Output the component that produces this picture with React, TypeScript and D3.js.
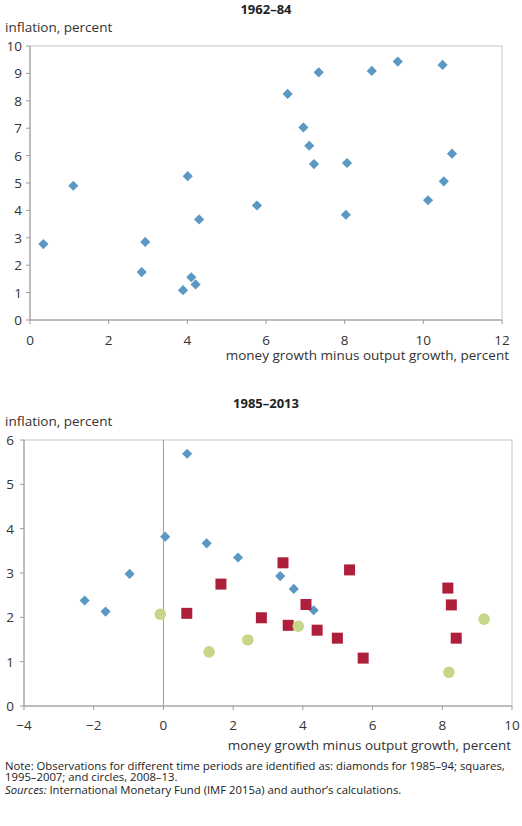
import React from "react";
import * as d3 from "d3";

// Panel 1: 1962–84
const p1X = [6.55, 7.34, 8.69, 9.35, 10.49, 6.95, 7.10, 7.22, 8.06, 10.73, 4.01, 1.10, 10.52, 10.12, 5.77, 8.03, 4.30, 0.34, 2.93, 2.84, 4.10, 4.21, 3.89];
const p1Y = [8.25, 9.04, 9.09, 9.43, 9.31, 7.03, 6.36, 5.69, 5.73, 6.07, 5.25, 4.90, 5.06, 4.37, 4.18, 3.84, 3.67, 2.77, 2.85, 1.75, 1.56, 1.30, 1.09];

// Panel 2: 1985–2013
const diaX = [0.68, 0.05, 1.24, 2.14, -0.97, -2.26, -1.66, 3.35, 3.74, 4.31];
const diaY = [5.69, 3.82, 3.67, 3.35, 2.98, 2.38, 2.13, 2.93, 2.64, 2.16];
const sqX = [3.43, 5.34, 1.65, 8.16, 4.09, 8.26, 0.67, 2.81, 3.58, 4.41, 4.99, 8.40, 5.73];
const sqY = [3.23, 3.07, 2.75, 2.66, 2.29, 2.28, 2.09, 1.99, 1.82, 1.71, 1.53, 1.53, 1.08];
const cirX = [-0.09, 9.20, 3.87, 2.42, 1.31, 8.19];
const cirY = [2.07, 1.96, 1.80, 1.49, 1.22, 0.76];

const p1XTicks = [0, 2, 4, 6, 8, 10, 12];
const p1YTicks = [0, 1, 2, 3, 4, 5, 6, 7, 8, 9, 10];
const p2XTicks = [-4, -2, 0, 2, 4, 6, 8, 10];
const p2YTicks = [0, 1, 2, 3, 4, 5, 6];

const BLUE = "#5b98c3";
const RED = "#ad1f3b";
const GREEN = "#c6d78a";
const FONT = "'Open Sans', 'Noto Sans', sans-serif";
const TXT = "#333";
const AXIS = "#9a9a9a";
const BORDER = "#c4c4c4";

const diamond = d3.symbol().type(d3.symbolDiamond2).size(66)();

export default function App() {
  const x1 = d3.scaleLinear().domain([0, 12]).range([30, 502]);
  const y1 = d3.scaleLinear().domain([0, 10]).range([320, 46]);
  const x2 = d3.scaleLinear().domain([-4, 10]).range([24, 512]);
  const y2 = d3.scaleLinear().domain([0, 6]).range([706, 440]);

  const axisStyle = { fontFamily: FONT, fontSize: 13.5, fill: TXT } as const;
  const titleStyle = { fontFamily: FONT, fontSize: 13, fontWeight: 700, fill: "#222" } as const;
  const noteStyle = { fontFamily: FONT, fontSize: 11.3, fill: "#222" } as const;

  return (
    <svg width={522} height={826} style={{ position: "absolute", left: 0, top: 0, background: "#fff" }}>
      {/* Panel 1 */}
      <text x={266} y={14} textAnchor="middle" style={titleStyle}>1962–84</text>
      <text x={5} y={32} style={axisStyle}>inflation, percent</text>
      <rect x={x1(0)} y={y1(10)} width={x1(12) - x1(0)} height={y1(0) - y1(10)} fill="none" stroke={BORDER} />
      <line x1={x1(0)} x2={x1(12)} y1={y1(0)} y2={y1(0)} stroke={AXIS} />
      <line x1={x1(0)} x2={x1(0)} y1={y1(0)} y2={y1(10)} stroke={AXIS} />
      {p1YTicks.map((t) => (
        <g key={"y1" + t}>
          <line x1={x1(0) - 4} x2={x1(0)} y1={y1(t)} y2={y1(t)} stroke={AXIS} />
          <text x={x1(0) - 8} y={y1(t) + 5} textAnchor="end" style={axisStyle}>{t}</text>
        </g>
      ))}
      {p1XTicks.map((t) => (
        <g key={"x1" + t}>
          <line x1={x1(t)} x2={x1(t)} y1={y1(0)} y2={y1(0) + 4} stroke={AXIS} />
          <text x={x1(t)} y={y1(0) + 25} textAnchor="middle" style={axisStyle}>{t}</text>
        </g>
      ))}
      <text x={509} y={360} textAnchor="end" style={axisStyle}>money growth minus output growth, percent</text>
      {p1X.map((v, i) => (
        <path key={"p1" + i} d={diamond} transform={`translate(${x1(v)},${y1(p1Y[i])})`} fill={BLUE} />
      ))}

      {/* Panel 2 */}
      <text x={266} y={408} textAnchor="middle" style={titleStyle}>1985–2013</text>
      <text x={5} y={426} style={axisStyle}>inflation, percent</text>
      <rect x={x2(-4)} y={y2(6)} width={x2(10) - x2(-4)} height={y2(0) - y2(6)} fill="none" stroke={BORDER} />
      <line x1={x2(-4)} x2={x2(10)} y1={y2(0)} y2={y2(0)} stroke={AXIS} />
      <line x1={x2(-4)} x2={x2(-4)} y1={y2(0)} y2={y2(6)} stroke={AXIS} />
      <line x1={x2(0)} x2={x2(0)} y1={y2(0)} y2={y2(6)} stroke={AXIS} />
      {p2YTicks.map((t) => (
        <g key={"y2" + t}>
          <line x1={x2(-4) - 4} x2={x2(-4)} y1={y2(t)} y2={y2(t)} stroke={AXIS} />
          <text x={x2(-4) - 10} y={y2(t) + 5} textAnchor="end" style={axisStyle}>{t}</text>
        </g>
      ))}
      {p2XTicks.map((t) => (
        <g key={"x2" + t}>
          <line x1={x2(t)} x2={x2(t)} y1={y2(0)} y2={y2(0) + 4} stroke={AXIS} />
          <text x={x2(t)} y={y2(0) + 24} textAnchor="middle" style={axisStyle}>{t < 0 ? "−" + Math.abs(t) : t}</text>
        </g>
      ))}
      <text x={511} y={750} textAnchor="end" style={axisStyle}>money growth minus output growth, percent</text>
      {diaX.map((v, i) => (
        <path key={"d" + i} d={diamond} transform={`translate(${x2(v)},${y2(diaY[i])})`} fill={BLUE} />
      ))}
      {sqX.map((v, i) => (
        <rect key={"s" + i} x={x2(v) - 5.5} y={y2(sqY[i]) - 5.5} width={11} height={11} fill={RED} />
      ))}
      {cirX.map((v, i) => (
        <circle key={"c" + i} cx={x2(v)} cy={y2(cirY[i])} r={5.8} fill={GREEN} />
      ))}

      {/* Notes */}
      <text x={5} y={770} style={noteStyle}>Note: Observations for different time periods are identified as: diamonds for 1985–94; squares,</text>
      <text x={5} y={781} style={noteStyle}>1995–2007; and circles, 2008–13.</text>
      <text x={5} y={793.5} style={noteStyle}><tspan fontStyle="italic">Sources:</tspan> International Monetary Fund (IMF 2015a) and author’s calculations.</text>
    </svg>
  );
}
